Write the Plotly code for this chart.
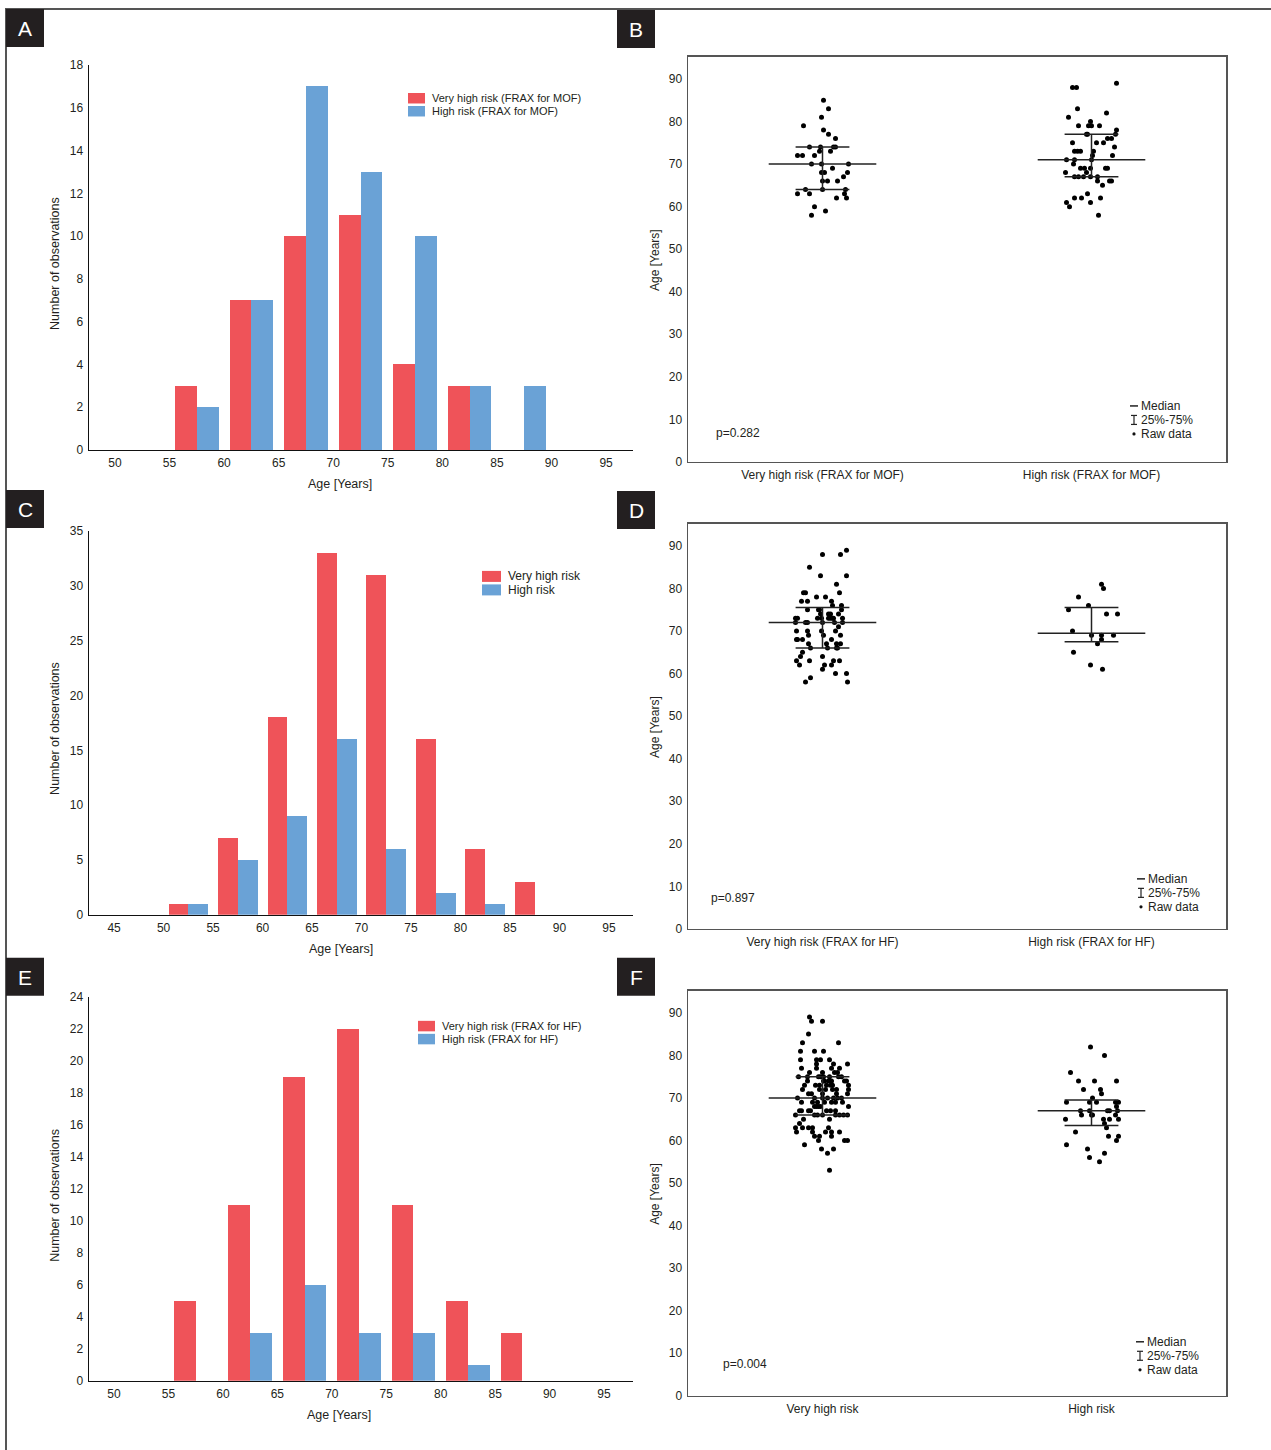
import plotly.graph_objects as go

W, H = 1271, 1450
FONT = "Liberation Sans, Arial, sans-serif"
TXT = "#231f20"
RED = "#EF5359"
BLUE = "#6AA2D6"
PX_PER_CAT = 269.0

# ---------------- data ----------------
# Panel A (histogram, FRAX for MOF)
a_bin_centers = [57.5, 62.5, 67.5, 72.5, 77.5, 82.5, 87.5]
a_very_high = [3, 7, 10, 11, 4, 3, 0]
a_high = [2, 7, 17, 13, 10, 3, 3]
a_ticks = [50, 55, 60, 65, 70, 75, 80, 85, 90, 95]

# Panel C (histogram)
c_bin_centers = [52.5, 57.5, 62.5, 67.5, 72.5, 77.5, 82.5, 87.5]
c_very_high = [1, 7, 18, 33, 31, 16, 6, 3]
c_high = [1, 5, 9, 16, 6, 2, 1, 0]
c_ticks = [45, 50, 55, 60, 65, 70, 75, 80, 85, 90, 95]

# Panel E (histogram, FRAX for HF)
e_bin_centers = [57.5, 62.5, 67.5, 72.5, 77.5, 82.5, 87.5]
e_very_high = [5, 11, 19, 22, 11, 5, 3]
e_high = [0, 3, 6, 3, 3, 1, 0]
e_ticks = [50, 55, 60, 65, 70, 75, 80, 85, 90, 95]

# Panel B (ages, raw data)
b_categories = ["Very high risk (FRAX for MOF)", "High risk (FRAX for MOF)"]
b_vh_age = [85, 83, 81, 79, 78, 77, 76, 74, 74, 74, 74, 72, 72, 72, 73, 73, 70, 70, 68, 68,
            69, 68, 67, 66, 66, 66, 64, 64, 63, 63, 62, 63, 62, 60, 59, 58, 70, 64]
b_vh_jit = [1, 6, -1, -19, 1, 6, 13, -13, -2, 11, 13, -25, -20, -8, -3, 8, -11, 26, -1, 2,
            10, 25, 21, 0, 5, 15, -17, 23, -25, -13, 14, 22, 24, -8, 3, -11, -1, 0]
b_h_age = [88, 88, 89, 83, 82, 81, 80, 79, 79, 79, 79, 78, 77, 77, 76, 76, 75, 75, 75, 74,
           73, 73, 73, 73, 72, 72, 71, 71, 70, 69, 69, 69, 69, 68, 68, 67, 67, 67, 67, 66,
           66, 66, 65, 63, 62, 62, 62, 61, 61, 60, 58, 71, 67, 77, 69]
b_h_jit = [-19, -15, 25, -14, 15, -23, -1, -13, -3, 0, 8, 25, 24, -4, 16, 20, -19, 5, 12, 23,
           -17, -14, -11, 2, 1, 21, -25, -17, -18, -7, -1, 14, 16, -26, -5, -17, -13, -8, 6, 6,
           18, 20, 11, -4, -17, -10, 9, -25, -1, -22, 7, 0, -1, -5, -11]
b_median = [70, 71]
b_q1 = [64, 67]
b_q3 = [74, 77]
b_pvalue = "p=0.282"

# Panel D
d_categories = ["Very high risk (FRAX for HF)", "High risk (FRAX for HF)"]
d_vh_age = [89, 88, 88, 85, 83, 83, 81, 79, 79, 79, 78, 78, 77, 77, 77, 76, 76, 75, 75, 75,
            75, 74, 74, 74, 74, 73, 73, 73, 73, 73, 73, 73, 73, 73, 72, 72, 72, 72, 72, 71,
            70, 70, 70, 69, 69, 69, 68, 68, 68, 68, 67, 67, 67, 67, 66, 66, 66, 66, 65, 64,
            64, 63, 63, 63, 63, 62, 62, 62, 61, 60, 60, 59, 58, 58, 72, 70]
d_vh_jit = [24, 18, 0, -13, -2, 24, 14, 17, -19, -17, -6, 3, -21, -15, 9, 10, 19, -15, -4, -3,
            19, 6, 8, -2, 16, -27, -25, -5, -1, 6, 8, 10, 11, 20, -27, -17, -15, 12, 20, 16,
            -26, -15, 13, -14, 1, 18, -26, -25, -20, 9, -14, 4, 14, 18, -12, 5, 14, 15, -20, 0,
            -22, -26, -13, 11, 17, -23, 9, 2, 0, 13, 24, -12, -17, 25, 0, -1]
d_h_age = [81, 80, 78, 76, 75, 74, 74, 70, 69, 69, 69, 68, 67, 65, 62, 61]
d_h_jit = [10, 12, -13, -3, -23, 15, 26, -19, 0, 10, 22, 10, 6, -18, -1, 11]
d_median = [72, 69.5]
d_q1 = [66, 67.5]
d_q3 = [75.5, 75.5]
d_pvalue = "p=0.897"

# Panel F
f_categories = ["Very high risk", "High risk"]
f_vh_age = [89, 88, 88, 85, 83, 83, 81, 81, 81, 79, 79, 79, 79, 78, 78, 78, 77, 77, 77, 77,
            76, 76, 76, 76, 75, 75, 75, 75, 75, 75, 75, 75, 74, 74, 74, 74, 74, 74, 73, 73,
            73, 73, 73, 73, 72, 72, 72, 72, 72, 71, 71, 71, 71, 70, 70, 70, 70, 70, 70, 69,
            69, 69, 69, 69, 69, 68, 68, 68, 68, 67, 67, 67, 67, 67, 67, 67, 66, 66, 66, 66,
            66, 66, 66, 65, 65, 64, 63, 63, 63, 63, 63, 62, 62, 62, 62, 62, 61, 61, 61, 60,
            60, 59, 60, 58, 58, 57, 53, 70, 68, 72, 71, 74, 66, 69, 73]
f_vh_jit = [-13, -11, 0, -14, -20, 16, -22, -8, 1, -22, -6, -2, 7, 25, -6, 11, -21, -6, 9, 17,
            -13, 0, 12, 15, -24, -15, -4, -2, 1, 7, 16, 19, -15, 1, 2, 9, 22, 24, -18, -7,
            4, 8, 10, 26, -20, -3, 10, 14, 26, -14, 0, 14, 25, -25, -8, 5, 11, 15, 19, -21,
            -10, -5, 9, 13, 20, -8, -6, -4, 26, -23, -21, -14, -12, 4, 8, 13, -27, -8, 0, 13,
            17, 21, 25, 7, -19, -23, -27, -20, -14, -10, 6, -26, -10, 3, 9, 17, -8, -3, 9, 22,
            25, -18, -4, -1, 11, 5, 7, 0, -2, 3, -11, 6, -5, 2, -3]
f_h_age = [82, 80, 76, 74, 74, 74, 72, 72, 71, 70, 69, 69, 69, 69, 69, 68, 67, 67, 67, 67,
           67, 66, 66, 66, 66, 65, 65, 65, 65, 64, 63, 62, 61, 61, 60, 59, 58, 57, 56, 55]
f_h_jit = [-1, 13, -21, -13, 3, 25, -8, 9, 10, 1, -25, -2, 5, 24, 27, 25, -11, -2, 16, 18,
           26, -10, 0, 1, 24, -26, 12, 18, 27, 13, 15, -16, 17, 27, 25, -25, -4, 13, -2, 8]
f_median = [70, 67]
f_q1 = [66, 63.5]
f_q3 = [75, 69.5]
f_pvalue = "p=0.004"

legend_labels_a = ["Very high risk (FRAX for MOF)", "High risk (FRAX for MOF)"]
legend_labels_c = ["Very high risk", "High risk"]
legend_labels_e = ["Very high risk (FRAX for HF)", "High risk (FRAX for HF)"]
stat_legend = ["Median", "25%-75%", "Raw data"]

# vertical calibration of the photographed page (observed offset / scale)
Y_OFF = 6.0
Y_SCALE = 0.9905


# ---------------- helpers ----------------
def hx(x):
    return x / W


def hy(y):
    return 1 - ((y - Y_OFF) / Y_SCALE) / H


fig = go.Figure()
layout = dict(
    width=W, height=H, autosize=False,
    margin=dict(l=0, r=0, t=0, b=0, pad=0),
    paper_bgcolor="white", plot_bgcolor="white",
    showlegend=False,
    font=dict(family=FONT, size=12, color=TXT),
)
shapes = []
annotations = []


def axname(n, kind):
    return f"{kind}axis" if n == 1 else f"{kind}axis{n}"


def ref(n, kind):
    return kind if n == 1 else f"{kind}{n}"


def add_hist(n, centers, vh, hi, ticks, xr, ymax, dtick, top, bottom):
    fig.add_trace(go.Bar(x=centers, y=vh, width=2, offset=-2, marker=dict(color=RED, line=dict(width=0)),
                         xaxis=ref(n, "x"), yaxis=ref(n, "y")))
    fig.add_trace(go.Bar(x=centers, y=hi, width=2, offset=0, marker=dict(color=BLUE, line=dict(width=0)),
                         xaxis=ref(n, "x"), yaxis=ref(n, "y")))
    layout[axname(n, "x")] = dict(
        domain=[hx(89), hx(633)], range=xr, tickvals=ticks, showline=True, linecolor="#111",
        linewidth=1.5, ticks="", showgrid=False, zeroline=False, anchor=ref(n, "y"),
        tickfont=dict(size=12, color=TXT), ticklabelstandoff=1, fixedrange=True)
    layout[axname(n, "y")] = dict(
        domain=[hy(bottom), hy(top)], range=[0, ymax], tick0=0, dtick=dtick, showline=True,
        linecolor="#111", linewidth=1.5, ticks="", showgrid=False, zeroline=False,
        anchor=ref(n, "x"), tickfont=dict(size=12, color=TXT), ticklabelstandoff=2, fixedrange=True)


def add_scatter(n, cats, groups, med, q1, q3, top, bottom):
    for i, (ages, jit) in enumerate(groups):
        fig.add_trace(go.Scatter(
            x=[i + j / PX_PER_CAT for j in jit], y=ages, mode="markers",
            marker=dict(size=5, color="#000"), xaxis=ref(n, "x"), yaxis=ref(n, "y")))
    lx, ly = [], []
    for i in range(len(cats)):
        lx += [i - 0.2, i + 0.2, None, i - 0.1, i + 0.1, None, i - 0.1, i + 0.1, None, i, i, None]
        ly += [med[i], med[i], None, q1[i], q1[i], None, q3[i], q3[i], None, q1[i], q3[i], None]
    fig.add_trace(go.Scatter(x=lx, y=ly, mode="lines", line=dict(color="#222", width=1.5),
                             xaxis=ref(n, "x"), yaxis=ref(n, "y")))
    layout[axname(n, "x")] = dict(
        domain=[hx(688), hx(1226)], range=[-0.5, 1.5], tickvals=list(range(len(cats))), ticktext=cats,
        showline=True, mirror=True, linecolor="#555", linewidth=1.5, ticks="", showgrid=False,
        zeroline=False, anchor=ref(n, "y"), tickfont=dict(size=12, color=TXT),
        ticklabelstandoff=1, fixedrange=True)
    layout[axname(n, "y")] = dict(
        domain=[hy(bottom), hy(top)], range=[0, 95.17], tick0=0, dtick=10, showline=True, mirror=True,
        linecolor="#555", linewidth=1.5, ticks="", showgrid=False, zeroline=False,
        anchor=ref(n, "x"), tickfont=dict(size=12, color=TXT), ticklabelstandoff=2, fixedrange=True)


def text(x, y, s, size=12, xanchor="center", angle=0, color=TXT):
    annotations.append(dict(x=hx(x), y=hy(y), xref="paper", yref="paper", text=s, showarrow=False,
                            xanchor=xanchor, yanchor="middle", textangle=angle,
                            font=dict(family=FONT, size=size, color=color)))


def rect(x0, y0, x1, y1, fill, line_w=0, line_c=None):
    shapes.append(dict(type="rect", xref="paper", yref="paper", x0=hx(x0), x1=hx(x1), y0=hy(y1), y1=hy(y0),
                       fillcolor=fill, line=dict(width=line_w, color=line_c or fill), layer="above"))


def line(x0, y0, x1, y1, w=1.5, c="#222"):
    shapes.append(dict(type="line", xref="paper", yref="paper", x0=hx(x0), x1=hx(x1), y0=hy(y0), y1=hy(y1),
                       line=dict(width=w, color=c), layer="above"))


# ---------------- panels ----------------
add_hist(1, a_bin_centers, a_very_high, a_high, a_ticks, [47.62, 97.47], 18, 2, 64, 449)
add_scatter(2, b_categories, [(b_vh_age, b_vh_jit), (b_h_age, b_h_jit)], b_median, b_q1, b_q3, 56, 461)
add_hist(3, c_bin_centers, c_very_high, c_high, c_ticks, [42.47, 97.42], 35, 5, 530, 914)
add_scatter(4, d_categories, [(d_vh_age, d_vh_jit), (d_h_age, d_h_jit)], d_median, d_q1, d_q3, 523, 928)
add_hist(5, e_bin_centers, e_very_high, e_high, e_ticks, [47.70, 97.66], 24, 2, 996, 1380)
add_scatter(6, f_categories, [(f_vh_age, f_vh_jit), (f_h_age, f_h_jit)], f_median, f_q1, f_q3, 990, 1395)

# axis titles
text(55, 263, "Number of observations", 12.5, angle=-90)
text(55, 728, "Number of observations", 12.5, angle=-90)
text(55, 1195, "Number of observations", 12.5, angle=-90)
text(340, 483, "Age [Years]", 12.5)
text(341, 948, "Age [Years]", 12.5)
text(339, 1414, "Age [Years]", 12.5)
text(655, 259, "Age [Years]", 12, angle=-90)
text(655, 726, "Age [Years]", 12, angle=-90)
text(655, 1193, "Age [Years]", 12, angle=-90)

# p values
text(714, 432, b_pvalue, 12, xanchor="left")
text(709, 897, d_pvalue, 12, xanchor="left")
text(721, 1363, f_pvalue, 12, xanchor="left")

# histogram legends
for (sx, sy, tx, labels, size, sw, sh, gap) in [
    (408, 92, 430, legend_labels_a, 11, 17, 10.5, 13),
    (482, 570, 506, legend_labels_c, 12, 19, 11, 13.5),
    (418, 1020, 440, legend_labels_e, 11, 17, 10.5, 13),
]:
    for k, (lab, col) in enumerate(zip(labels, [RED, BLUE])):
        y0 = sy + k * gap
        rect(sx, y0, sx + sw, y0 + sh, col)
        text(tx, y0 + sh / 2, lab, size, xanchor="left")

# median / IQR / raw-data legends
for (cx, y1) in [(1134, 405), (1141, 878), (1140, 1341)]:
    line(cx - 4, y1, cx + 4, y1, 1.5)
    y2 = y1 + 14
    line(cx, y2 - 4.5, cx, y2 + 4.5, 1.2)
    line(cx - 3, y2 - 4.5, cx + 3, y2 - 4.5, 1.2)
    line(cx - 3, y2 + 4.5, cx + 3, y2 + 4.5, 1.2)
    y3 = y1 + 28
    shapes.append(dict(type="circle", xref="paper", yref="paper", x0=hx(cx - 1.6), x1=hx(cx + 1.6),
                       y0=hy(y3 + 1.6), y1=hy(y3 - 1.6), fillcolor="#111", line=dict(width=0), layer="above"))
    for k, lab in enumerate(stat_legend):
        text(cx + 5, y1 + 14 * k, lab, 12, xanchor="left")

# outer frame
line(5, 8, 1271, 8, 2, "#555")
line(6, 8, 6, 1460, 2, "#555")

# panel letters
for (x0, y0, letter) in [(6, 8, "A"), (617, 9, "B"), (6, 489, "C"), (617, 490, "D"), (6, 957, "E"), (617, 957, "F")]:
    rect(x0, y0, x0 + 38, y0 + 38, "#231f20")
    text(x0 + 19, y0 + 19.5, letter, 21, color="white")

layout["shapes"] = shapes
layout["annotations"] = annotations
layout["bargap"] = 0
layout["barmode"] = "overlay"
fig.update_layout(**layout)

post = (
    "var de=document.documentElement,b=document.body;"
    "[de,b].forEach(function(e){e.style.margin='0';e.style.padding='0';"
    "e.style.overflow='hidden';});"
)
fig.write_html("out.html", config={"displayModeBar": False, "staticPlot": True},
               post_script=post)
